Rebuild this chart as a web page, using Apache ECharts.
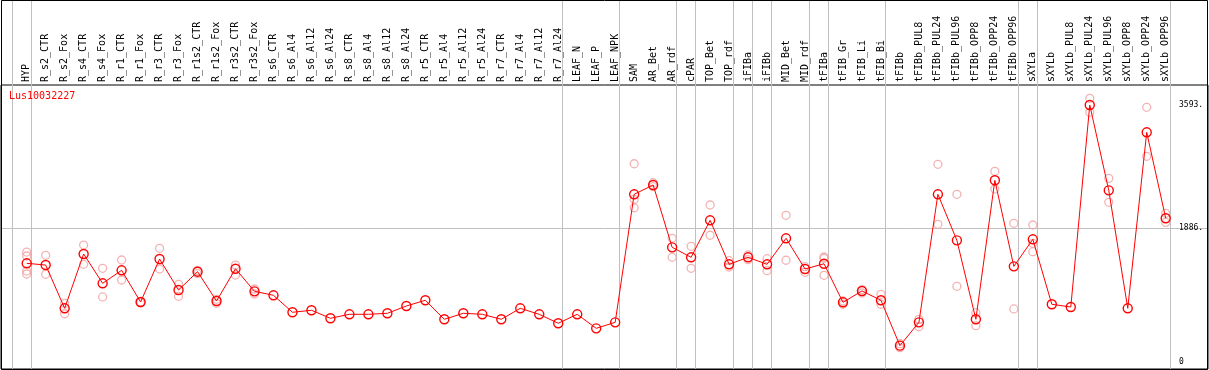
<!DOCTYPE html>
<html>
<head>
<meta charset="utf-8">
<script src="https://cdn.jsdelivr.net/npm/echarts@6/dist/echarts.min.js"></script>
<style>
html,body{margin:0;padding:0;background:#fff;}
#chart{width:1209px;height:370px;}
</style>
</head>
<body>
<div id="chart"></div>
<script>
const geneName = 'Lus10032227';
const categories = ['HYP','R_s2_CTR','R_s2_Fox','R_s4_CTR','R_s4_Fox','R_r1_CTR','R_r1_Fox','R_r3_CTR','R_r3_Fox','R_r1s2_CTR','R_r1s2_Fox','R_r3s2_CTR','R_r3s2_Fox','R_s6_CTR','R_s6_Al4','R_s6_Al12','R_s6_Al24','R_s8_CTR','R_s8_Al4','R_s8_Al12','R_s8_Al24','R_r5_CTR','R_r5_Al4','R_r5_Al12','R_r5_Al24','R_r7_CTR','R_r7_Al4','R_r7_Al12','R_r7_Al24','LEAF_N','LEAF_P','LEAF_NPK','SAM','AR_Bet','AR_rdf','cPAR','TOP_Bet','TOP_rdf','iFIBa','iFIBb','MID_Bet','MID_rdf','tFIBa','tFIB_Gr','tFIB_Li','tFIB_Bi','tFIBb','tFIBb_PUL8','tFIBb_PUL24','tFIBb_PUL96','tFIBb_OPP8','tFIBb_OPP24','tFIBb_OPP96','sXYLa','sXYLb','sXYLb_PUL8','sXYLb_PUL24','sXYLb_PUL96','sXYLb_OPP8','sXYLb_OPP24','sXYLb_OPP96'];
const meanValues = [1402,1378,779,1531,1125,1305,866,1461,1032,1286,880,1327,1014,959,724,752,641,696,696,710,811,890,627,710,696,627,779,696,572,696,502,585,2357,2486,1623,1485,1997,1388,1485,1388,1748,1323,1396,862,1019,890,262,585,2357,1720,627,2551,1360,1734,835,797,3593,2412,779,3215,2025];
const replicates = [[1558,1503,1295,1254],[1513,1250],[848,704],[1655,1388],[1333,936],[1448,1171],[866,853],[1610,1323],[1111,945],[1305,1258],[904,848],[1378,1240],[1046,977],[],[],[],[],[],[],[],[],[],[],[],[],[],[],[],[],[],[],[],[2780,2288,2171],[2517,2462],[1748,1485],[1637,1333],[2209,1790],[1438,1351],[1517,1452],[1466,1300],[2066,1444],[1355,1277],[1489,1471,1236],[880,835],[1037,991],[973,835],[289,234],[627,525],[2772,1942],[2357,1084],[718,538],[2675,2430],[1956,770],[1932,1679,1563],[],[],[3686,3492],[2578,2246],[],[3561,2883],[2094,1969]];
// indices of categories after which a group separator is drawn (-1 = before first)
const groupEnds = [-1,0,28,31,34,35,37,38,39,41,42,45,52,53,60];
const refLineValue = 1886;
const yTickValues = [3593,1886,0];
const yTickLabels = ['3593.','1886.','0'];
const yMin = -61, yMax = 3870;

const FONT = 'DejaVu Sans Mono';
const repData = [];
replicates.forEach((arr, i) => arr.forEach(v => repData.push([i, v])));

const chart = echarts.init(document.getElementById('chart'), null, {renderer: 'canvas'});
chart.setOption({
  animation: false,
  backgroundColor: '#fff',
  title: {
    text: geneName, left: 9, top: 91, padding: 0,
    textStyle: {color: '#ff0000', fontSize: 10, fontWeight: 'normal', fontFamily: FONT}
  },
  grid: [
    {left: 17.2, right: 33.8, top: 85, bottom: 1, show: false},
    {left: 1, right: 1, top: 85, bottom: 1, show: true, borderColor: '#000', borderWidth: 1, backgroundColor: 'transparent'}
  ],
  xAxis: [
    {type: 'category', gridIndex: 0, data: categories, position: 'top', boundaryGap: true,
     axisLine: {show: false}, axisTick: {show: false}, splitLine: {show: false},
     axisLabel: {rotate: 90, interval: 0, margin: 3, fontSize: 10, fontFamily: FONT, color: '#000'}},
    {type: 'value', gridIndex: 0, min: -0.5, max: categories.length - 0.5, show: false, splitLine: {show: false}},
    {type: 'value', gridIndex: 1, min: 0, max: 1, show: false, splitLine: {show: false}}
  ],
  yAxis: [
    {type: 'value', gridIndex: 0, min: yMin, max: yMax, show: false, splitLine: {show: false}},
    {type: 'value', gridIndex: 1, min: yMin, max: yMax, show: false, splitLine: {show: false}}
  ],
  series: [
    {type: 'scatter', xAxisIndex: 0, yAxisIndex: 0, data: repData, symbol: 'circle', symbolSize: 8,
     itemStyle: {color: 'rgba(0,0,0,0)', borderColor: '#f0a0a0', borderWidth: 1.3}, z: 2},
    {type: 'line', xAxisIndex: 0, yAxisIndex: 0, data: meanValues, symbol: 'circle', symbolSize: 9,
     lineStyle: {color: '#ff0000', width: 1},
     itemStyle: {color: 'rgba(0,0,0,0)', borderColor: '#ff0000', borderWidth: 1.4}, z: 3}
  ]
});

function drawDecor() {
  const g = [];
  groupEnds.forEach(e => {
    const x = Math.round(chart.convertToPixel({xAxisIndex: 1}, e + 0.21)) + 0.5;
    g.push({type: 'line', z: 1, silent: true, shape: {x1: x, y1: 0, x2: x, y2: 369},
            style: {stroke: '#c0c0c0', lineWidth: 1}});
  });
  const yRef = Math.round(chart.convertToPixel({yAxisIndex: 1}, refLineValue)) + 0.5;
  const xL = chart.convertToPixel({xAxisIndex: 2}, 0);
  const xR = chart.convertToPixel({xAxisIndex: 2}, 1);
  g.push({type: 'line', z: 1, silent: true, shape: {x1: xL, y1: yRef, x2: xR, y2: yRef},
          style: {stroke: '#c0c0c0', lineWidth: 1}});
  yTickValues.forEach((v, i) => {
    const y = chart.convertToPixel({yAxisIndex: 1}, v);
    g.push({type: 'text', z: 5, silent: true, x: 1179, y: v === 0 ? y - 3 : y,
            style: {text: yTickLabels[i], fill: '#000', font: '8px ' + FONT, textVerticalAlign: 'middle', textAlign: 'left'}});
  });
  // outer frame
  g.push({type: 'rect', z: 6, silent: true, shape: {x: 1.5, y: 0.5, width: 1206, height: 369},
          style: {fill: 'none', stroke: '#000', lineWidth: 1}});
  chart.setOption({graphic: g});
}
drawDecor();
</script>
</body>
</html>
